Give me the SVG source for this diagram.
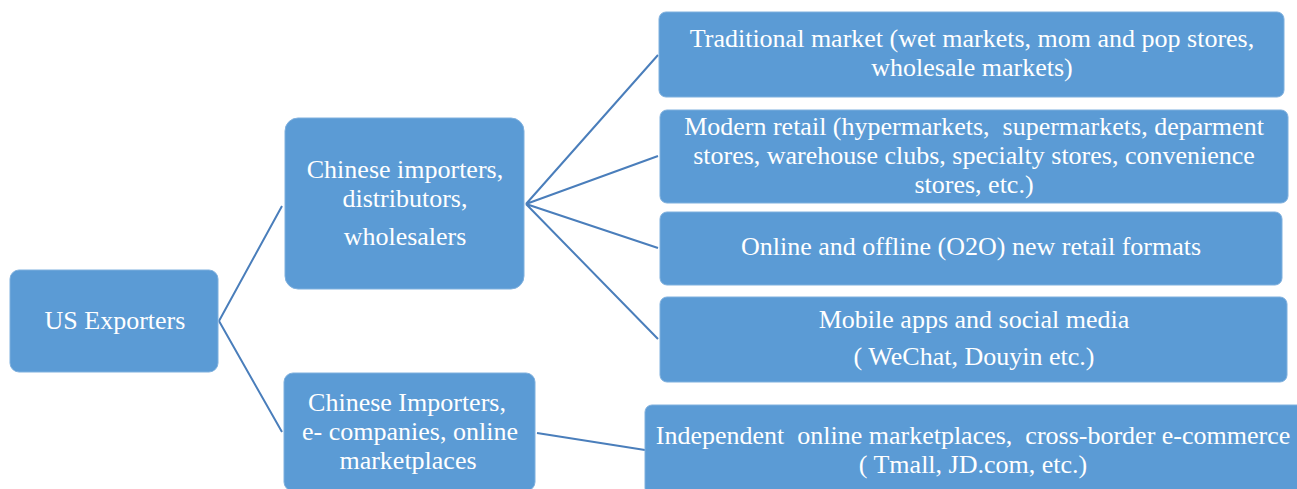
<svg xmlns="http://www.w3.org/2000/svg" width="1297" height="489" viewBox="0 0 1297 489">
<style>
.box{fill:#5b9bd5;stroke:#7fb0de;stroke-width:1}
.t{font-family:"Liberation Serif","Times New Roman",serif;font-size:26px;fill:#ffffff;text-anchor:middle;white-space:pre}
.c{stroke:#4a7ebb;stroke-width:2;fill:none}
</style>
<rect width="1297" height="489" fill="#ffffff"/>
<g id="connectors">
<path class="c" d="M219 321 L282 206 M219 321 L282 432"/>
<path class="c" d="M526 204 L658 55 M526 204 L658 156 M526 204 L658 248 M526 204 L658 339"/>
<path class="c" d="M537 433 L645 450"/>
</g>
<g id="us-exporters">
<rect class="box" x="10" y="270" width="208" height="102" rx="9"/>
<text class="t" x="115" y="329">US Exporters</text>
</g>
<g id="chinese-importers-distributors">
<rect class="box" x="285" y="118" width="239" height="171" rx="13"/>
<text class="t" x="405" y="178">Chinese importers,</text>
<text class="t" x="405" y="207">distributors,</text>
<text class="t" x="405" y="245">wholesalers</text>
</g>
<g id="chinese-importers-ecompanies">
<rect class="box" x="284" y="373" width="251" height="118" rx="9"/>
<text class="t" x="407" y="411">Chinese Importers,</text>
<text class="t" x="410" y="440">e- companies, online</text>
<text class="t" x="408" y="469">marketplaces</text>
</g>
<g id="traditional-market">
<rect class="box" x="659" y="12" width="625" height="85" rx="7"/>
<text class="t" x="972" y="47">Traditional market (wet markets, mom and pop stores,</text>
<text class="t" x="972" y="76">wholesale markets)</text>
</g>
<g id="modern-retail">
<rect class="box" x="660" y="110" width="628" height="93" rx="7"/>
<text class="t" x="974" y="135">Modern retail (hypermarkets,  supermarkets, deparment</text>
<text class="t" x="974" y="164">stores, warehouse clubs, specialty stores, convenience</text>
<text class="t" x="974" y="193">stores, etc.)</text>
</g>
<g id="o2o">
<rect class="box" x="660" y="212" width="622" height="73" rx="7"/>
<text class="t" x="971" y="255">Online and offline (O2O) new retail formats</text>
</g>
<g id="mobile-apps">
<rect class="box" x="660" y="297" width="627" height="85" rx="7"/>
<text class="t" x="974" y="328">Mobile apps and social media</text>
<text class="t" x="974" y="365">( WeChat, Douyin etc.)</text>
</g>
<g id="independent-online">
<rect class="box" x="645" y="405" width="660" height="90" rx="7"/>
<text class="t" x="973" y="444">Independent  online marketplaces,  cross-border e-commerce</text>
<text class="t" x="973" y="473">( Tmall, JD.com, etc.)</text>
</g>
</svg>
